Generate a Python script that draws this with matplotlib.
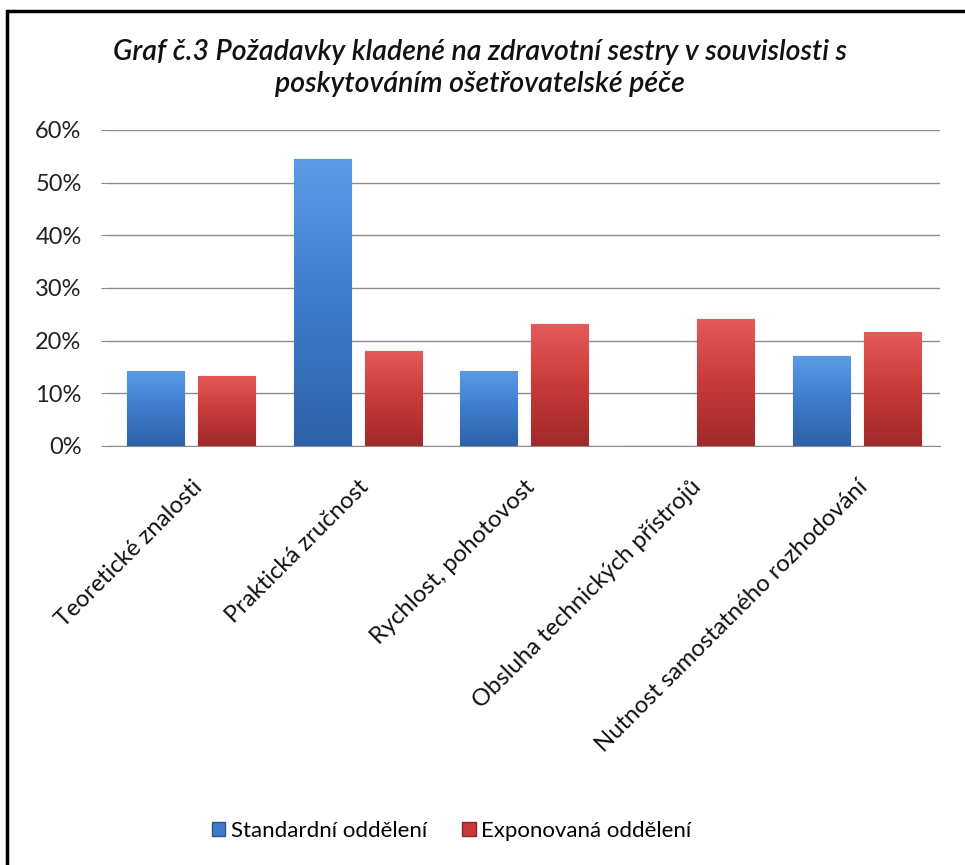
import numpy as np
import matplotlib
matplotlib.use("Agg")
import matplotlib.pyplot as plt
from matplotlib.patches import Patch, Rectangle
from matplotlib.colors import LinearSegmentedColormap
from matplotlib.ticker import PercentFormatter

plt.rcParams["font.family"] = ["Lato", "DejaVu Sans"]

categories = ["Teoretické znalosti", "Praktická zručnost", "Rychlost, pohotovost",
              "Obsluha technických přístrojů", "Nutnost samostatného rozhodování"]
standard = [14.3, 54.4, 14.3, 0.0, 17.1]
exposed = [13.3, 18.1, 23.1, 24.2, 21.7]
series_names = ["Standardní oddělení", "Exponovaná oddělení"]
title = "Graf č.3 Požadavky kladené na zdravotní sestry v souvislosti s\nposkytováním ošetřovatelské péče"

blue_cmap = LinearSegmentedColormap.from_list("b", ["#5B9BE6", "#3E7CCB", "#2F62A8"])
red_cmap = LinearSegmentedColormap.from_list("r", ["#E45A5A", "#C83A3A", "#A12A2A"])

fig = plt.figure(figsize=(9.65, 8.65), dpi=100)
ax = fig.add_axes([108 / 965, 1 - 446 / 865, (940 - 108) / 965, (446 - 130) / 865])

x = np.arange(len(categories))
w = 0.343
off = 0.213
b1 = ax.bar(x - off, standard, w, color="#3E7CCB", edgecolor="#2A5590", linewidth=0.8, zorder=3)
b2 = ax.bar(x + off, exposed, w, color="#C83A3A", edgecolor="#8E2424", linewidth=0.8, zorder=3)

# vertical gradient fill, clipped to each bar
grad = np.linspace(0, 1, 64).reshape(-1, 1)
for bars, cmap in ((b1, blue_cmap), (b2, red_cmap)):
    for p in bars:
        if p.get_height() <= 0:
            continue
        x0, y0 = p.get_x(), p.get_y()
        im = ax.imshow(grad, cmap=cmap, aspect="auto", zorder=3.5,
                       extent=(x0, x0 + p.get_width(), y0, y0 + p.get_height()),
                       origin="upper")
        im.set_clip_path(p)

ax.set_xlim(-0.5, len(categories) - 0.5)
ax.set_ylim(0, 60)
ax.set_yticks(np.arange(0, 61, 10))
ax.yaxis.set_major_formatter(PercentFormatter(decimals=0))
ax.grid(axis="y", color="#8C8C8C", linewidth=1.0, zorder=0)
ax.set_axisbelow(True)
for s in ("top", "right", "left"):
    ax.spines[s].set_visible(False)
ax.spines["bottom"].set_color("#8C8C8C")
ax.tick_params(axis="y", length=5, color="#8C8C8C", labelsize=17, pad=14, labelcolor="#222222")
ax.tick_params(axis="x", length=0, labelsize=17.2, pad=22, labelcolor="#111111")
ax.set_xticks(x)
ax.set_xticklabels(categories, rotation=45, ha="right", rotation_mode="anchor")

fig.text(0.497, 1 - 68 / 865, title, ha="center", va="center", fontsize=20.5,
         fontweight="semibold", fontstyle="italic", linespacing=1.3, color="#111111")

handles = [Patch(facecolor="#3E7CCB", edgecolor="#2A5590"),
           Patch(facecolor="#C83A3A", edgecolor="#8E2424")]
fig.legend(handles, series_names, loc="center", bbox_to_anchor=(0.468, 1 - 831 / 865),
           ncol=2, frameon=False, fontsize=16, handlelength=0.6, handleheight=0.6,
           handletextpad=0.25, columnspacing=1.6)

fig.patches.append(Rectangle((7 / 965, -0.05), 1.1, 1 - 11 / 865 + 0.05, transform=fig.transFigure,
                             fill=False, edgecolor="black", linewidth=2.5))

fig.savefig("out.png", dpi=100, facecolor="white")
